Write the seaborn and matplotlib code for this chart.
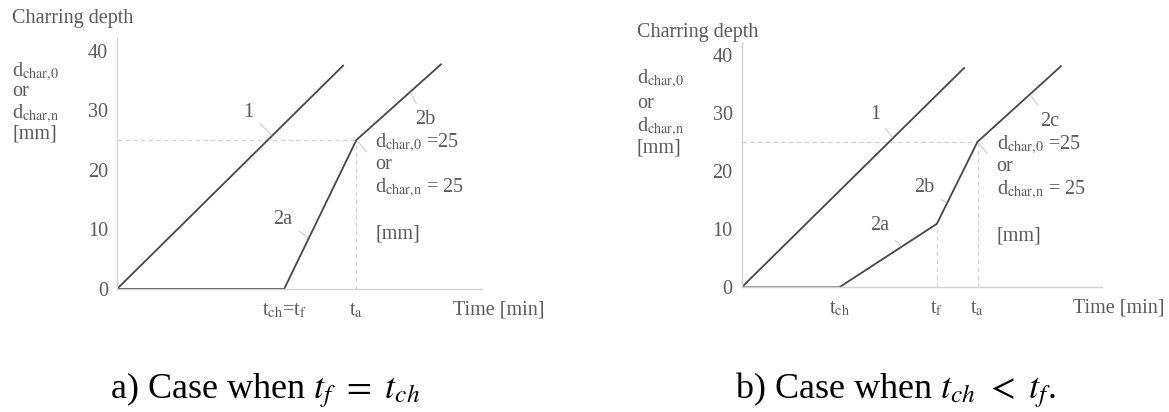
import numpy as np
import pandas as pd
import matplotlib
matplotlib.use("Agg")
import matplotlib.pyplot as plt
import seaborn as sns
from matplotlib.transforms import blended_transform_factory

# ---- case a): t_f = t_ch ----
a_time_1 = [0, 62.0]
a_depth_1 = [0, 37.5]
a_time_2 = [0, 45.8, 65.6, 88.8]
a_depth_2 = [0, 0, 25, 37.7]
a_xticks = [45.8, 65.6]
a_xticklabels = [r"t$_{\rm ch}$=t$_{\rm f}$", r"t$_{\rm a}$"]
a_dashed_times = [65.6]

# ---- case b): t_ch < t_f ----
b_time_1 = [0, 61.8]
b_depth_1 = [0, 37.7]
b_time_2 = [0, 27.1, 54.2, 65.5, 88.7]
b_depth_2 = [0, 0, 10.9, 25, 38.0]
b_xticks = [27.1, 54.2, 65.5]
b_xticklabels = [r"t$_{\rm ch}$", r"t$_{\rm f}$", r"t$_{\rm a}$"]
b_dashed_times = [54.2, 65.5]

y_ticks = [0, 10, 20, 30, 40]
d_limit = 25

# curve labels: (text, curve number, time of the leader point, text offset in points)
a_labels = [("1", 1, 42.5, (-17, 17)), ("2a", 2, 52.6, (-19, 13)), ("2b", 2, 80.3, (11, -20))]
b_labels = [("1", 1, 42.0, (-13, 17)), ("2a", 2, 44.5, (-16, 15)),
            ("2b", 2, 57.0, (-16, 11.5)), ("2c", 2, 80.1, (14, -19.5))]

W, H = 1169, 412
sns.set_theme(style="white")
plt.rcParams["font.family"] = ["Liberation Serif", "DejaVu Serif"]
plt.rcParams["mathtext.fontset"] = "stix"

LINE = "#474747"
LIGHT = "#d2d2d2"
TXT = "#5a5a5a"
FS = 14.5

D0 = r"d$_{\rm char{,}0}$"
DN = r"d$_{\rm char{,}n}$"

fig = plt.figure(figsize=(W / 100, H / 100), dpi=100)


def fx(px):
    return px / W


def fy(py):
    return 1 - py / H


def panel(rect, ylim_top, t1, d1, t2, d2, xticks, xticklabels, dashed_times, labels):
    ax = fig.add_axes(rect)
    df1 = pd.DataFrame({"time": t1, "depth": d1})
    df2 = pd.DataFrame({"time": t2, "depth": d2})
    sns.lineplot(data=df1, x="time", y="depth", ax=ax, color=LINE, lw=1.3,
                 sort=False, estimator=None)
    sns.lineplot(data=df2, x="time", y="depth", ax=ax, color=LINE, lw=1.3,
                 sort=False, estimator=None)

    # reference lines at d = 25 mm and at the kink times
    t_a = float(np.interp(d_limit, d2[-3:], t2[-3:]))
    ax.plot([0, t_a], [d_limit, d_limit], color=LIGHT, lw=0.8, dashes=(4, 3), zorder=1)
    for t in dashed_times:
        ax.plot([t, t], [0, np.interp(t, t2, d2)], color=LIGHT, lw=0.8, dashes=(4, 3), zorder=1)

    ax.set_xlim(0, 100)
    ax.set_ylim(0, ylim_top)
    ax.set_xlabel("")
    ax.set_ylabel("")
    ax.set_yticks(y_ticks)
    ax.set_yticklabels([str(v) for v in y_ticks])
    ax.set_xticks(xticks)
    ax.set_xticklabels(xticklabels)
    ax.tick_params(axis="both", length=0, labelsize=FS, labelcolor=TXT)
    ax.tick_params(axis="y", pad=6.5)
    ax.tick_params(axis="x", pad=9)
    for s in ("top", "right"):
        ax.spines[s].set_visible(False)
    for s in ("left", "bottom"):
        ax.spines[s].set_color(LIGHT)
        ax.spines[s].set_linewidth(1.0)

    # curve labels with leader lines
    for text, num, t, off in labels:
        d = np.interp(t, t1, d1) if num == 1 else np.interp(t, t2, d2)
        ax.annotate(text, xy=(t, d), xytext=off, textcoords="offset points",
                    ha="center", va="center", fontsize=FS, color=TXT,
                    arrowprops=dict(arrowstyle="-", color=LIGHT, lw=0.9,
                                    shrinkA=3, shrinkB=1))
    # leader from the 25 mm point to its note
    ax.annotate("", xy=(t_a, d_limit), xytext=(7, -8.5), textcoords="offset points",
                arrowprops=dict(arrowstyle="-", color=LIGHT, lw=0.9, shrinkA=0, shrinkB=1))
    note = [(D0 + " =25", -5.4), ("or", -20.9), (DN + " = 25", -37.8), ("[mm]", -70.9)]
    for s, dy in note:
        ax.annotate(s, xy=(t_a, d_limit), xytext=(13.7, dy), textcoords="offset points",
                    ha="left", va="baseline", fontsize=FS, color=TXT)

    tr = blended_transform_factory(ax.transData, ax.transAxes)
    ax.annotate("Time [min]", xy=(92, 0), xycoords=tr, xytext=(0, -18),
                textcoords="offset points", ha="left", va="baseline",
                fontsize=FS, color=TXT)
    return ax


panel([fx(117), 123 / H, 365 / W, 251 / H], 42.1,
      a_time_1, a_depth_1, a_time_2, a_depth_2, a_xticks, a_xticklabels,
      a_dashed_times, a_labels)
panel([fx(741.7), 124.7 / H, 360 / W, 245.6 / H], 42.2,
      b_time_1, b_depth_1, b_time_2, b_depth_2, b_xticks, b_xticklabels,
      b_dashed_times, b_labels)

# axis title blocks
ylabel_lines = ["Charring depth", D0, "or", DN, "[mm]"]
left_block = [(12, 23), (12, 76), (12, 96), (12, 118), (12, 139)]
right_block = [(637, 37), (637, 83), (637, 108), (637, 131), (637, 153)]
for block in (left_block, right_block):
    for s, (x, y) in zip(ylabel_lines, block):
        fig.text(fx(x), fy(y), s, ha="left", va="baseline", fontsize=FS, color=TXT)

# panel captions
fig.text(fx(110), fy(398), r"a) Case when $t_f\ =\ t_{ch}$", ha="left", va="baseline",
         fontsize=26, color="black")
fig.text(fx(735), fy(398), r"b) Case when $t_{ch}\ <\ t_f$.", ha="left", va="baseline",
         fontsize=26, color="black")

fig.savefig("out.png", dpi=100, facecolor="white")
